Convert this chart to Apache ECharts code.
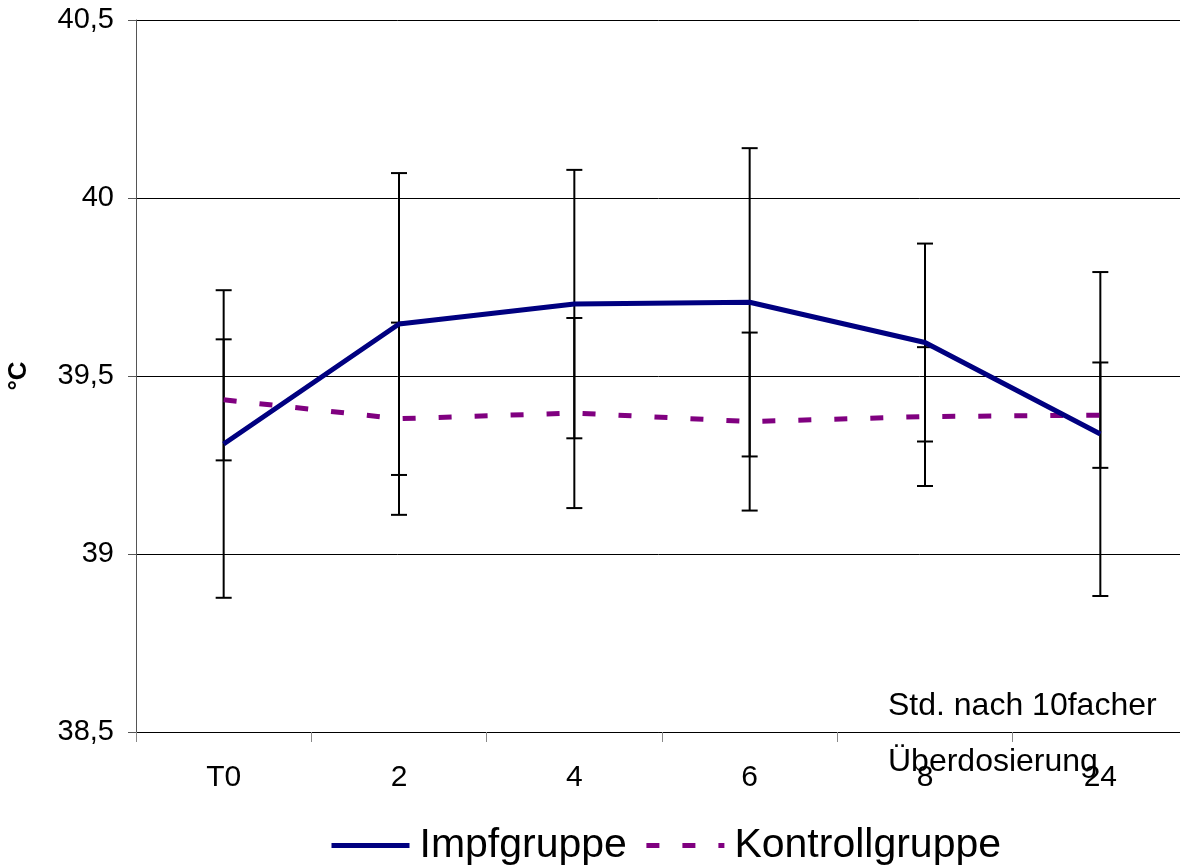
<!DOCTYPE html>
<html>
<head>
<meta charset="utf-8">
<script src="https://cdn.jsdelivr.net/npm/echarts@6/dist/echarts.min.js"></script>
<style>
html,body{margin:0;padding:0;background:#fff;overflow:hidden;}
#chart{width:1180px;height:868px;}
</style>
</head>
<body>
<div id="chart"></div>
<script>
// ---- data ----
var categories = ['T0', '2', '4', '6', '8', '24'];
var impfMean = [39.309, 39.646, 39.702, 39.707, 39.594, 39.337];
var impfSD = [0.432, 0.424, 0.377, 0.433, 0.278, 0.455];
var kontrollMean = [39.433, 39.380, 39.396, 39.372, 39.386, 39.390];
var kontrollSD = [0.170, 0.270, 0.267, 0.250, 0.195, 0.148];
var yTicks = [38.5, 39, 39.5, 40, 40.5];
var seriesNames = ['Impfgruppe', 'Kontrollgruppe'];
var noteLines = ['Std. nach 10facher', 'Überdosierung'];
var yName = '°C';

function errData(means, sds) {
  return means.map(function (m, i) { return [i, m - sds[i], m + sds[i]]; });
}

function renderErr(params, api) {
  var x = api.value(0);
  var lo = api.coord([x, api.value(1)]);
  var hi = api.coord([x, api.value(2)]);
  var cap = 8;
  var style = { stroke: '#000', lineWidth: 2 };
  return {
    type: 'group',
    children: [
      { type: 'line', shape: { x1: lo[0], y1: lo[1], x2: hi[0], y2: hi[1] }, style: style },
      { type: 'line', shape: { x1: lo[0] - cap, y1: lo[1], x2: lo[0] + cap, y2: lo[1] }, style: style },
      { type: 'line', shape: { x1: hi[0] - cap, y1: hi[1], x2: hi[0] + cap, y2: hi[1] }, style: style }
    ]
  };
}

var font = "'Liberation Sans', Arial, sans-serif";
var chart = echarts.init(document.getElementById('chart'), null, { renderer: 'canvas' });

chart.setOption({
  animation: false,
  backgroundColor: '#ffffff',
  grid: { left: 136, top: 20, width: 1052, height: 712, containLabel: false, outerBoundsMode: 'none' },
  legend: {
    data: [
      { name: seriesNames[0], itemStyle: { opacity: 0 } },
      { name: seriesNames[1], itemStyle: { opacity: 0 } }
    ],
    left: 329,
    top: 825,
    padding: 0,
    itemWidth: 78,
    itemHeight: 14,
    itemGap: 17,
    lineStyle: { width: 5 },
    textStyle: { fontFamily: font, fontSize: 41, color: '#000', padding: [0, 0, 0, 5] }
  },
  xAxis: {
    type: 'category',
    data: categories,
    boundaryGap: true,
    axisLine: { lineStyle: { color: '#000', width: 1 } },
    axisTick: { show: true, interval: 0, length: 10, lineStyle: { color: '#888' } },
    axisLabel: { fontFamily: font, fontSize: 30, color: '#000', margin: 31, interval: 0 },
    splitLine: { show: false }
  },
  yAxis: {
    type: 'value',
    min: yTicks[0],
    max: yTicks[yTicks.length - 1],
    interval: 0.5,
    name: yName,
    nameLocation: 'middle',
    nameRotate: 90,
    nameGap: 104,
    nameMoveOverlap: false,
    nameTextStyle: { fontFamily: font, fontSize: 26, fontWeight: 'bold', color: '#000' },
    axisLine: { show: true, lineStyle: { color: '#555', width: 1 } },
    axisTick: { show: true, length: 8, lineStyle: { color: '#555' } },
    axisLabel: {
      fontFamily: font, fontSize: 29, color: '#000', margin: 22,
      formatter: function (v) { return String(v).replace('.', ','); }
    },
    splitLine: { show: true, lineStyle: { color: '#000', width: 1 } }
  },
  graphic: [
    { type: 'text', left: 888, top: 690, style: { text: noteLines[0], font: '32px ' + font, fill: '#000' } },
    { type: 'text', left: 888, top: 746, style: { text: noteLines[1], font: '32px ' + font, fill: '#000' } }
  ],
  series: [
    {
      name: 'errImpf', type: 'custom', renderItem: renderErr, data: errData(impfMean, impfSD), z: 1, silent: true
    },
    {
      name: 'errKontroll', type: 'custom', renderItem: renderErr, data: errData(kontrollMean, kontrollSD), z: 1, silent: true
    },
    {
      name: seriesNames[0], type: 'line', data: impfMean, symbol: 'none', z: 3,
      lineStyle: { color: '#000080', width: 5 }, itemStyle: { color: '#000080' }
    },
    {
      name: seriesNames[1], type: 'line', data: kontrollMean, symbol: 'none', z: 2,
      lineStyle: { color: '#800080', width: 5, type: [13, 23] }, itemStyle: { color: '#800080' }
    }
  ]
});
</script>
</body>
</html>
